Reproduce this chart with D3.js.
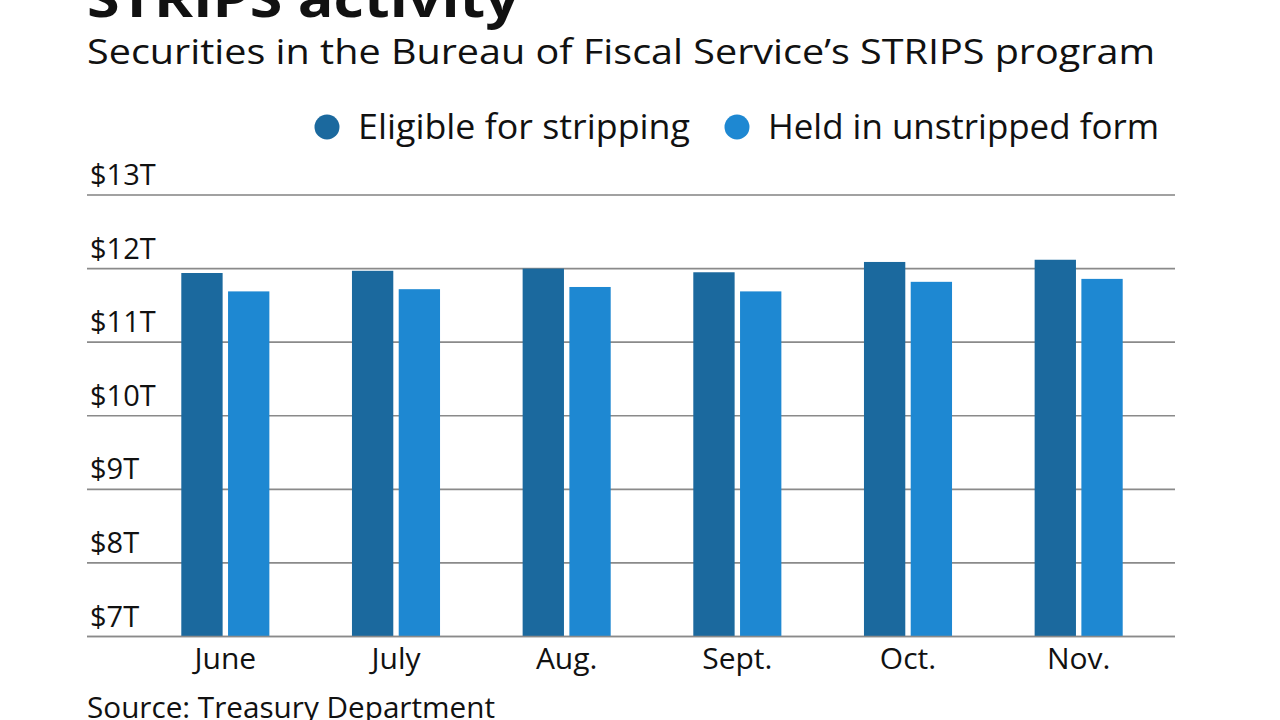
<!DOCTYPE html>
<html><head><meta charset="utf-8">
<script src="https://cdn.jsdelivr.net/npm/d3@7/dist/d3.min.js"></script>
<style>body{margin:0;background:#fff;} svg{display:block;} text{font-family:"Open Sans",sans-serif;fill:#111;}</style>
</head><body>
<svg id="c" width="1280" height="720"></svg>
<script>
const months = ["June","July","Aug.","Sept.","Oct.","Nov."];
const seriesNames = ["Eligible for stripping","Held in unstripped form"];
const eligible = [11.94, 11.97, 12.00, 11.95, 12.09, 12.12];
const unstripped = [11.69, 11.72, 11.75, 11.69, 11.82, 11.86];
const yTicks = [7,8,9,10,11,12,13];
const colors = ["#1b699e","#1e88d2"];

const svg = d3.select("#c");
const y = d3.scaleLinear().domain([7,13]).range([636.5,195]);
const x0 = d3.scaleBand().domain(months).range([140,1164]).paddingInner(0.484).paddingOuter(0.242);
const x1 = d3.scaleBand().domain(seriesNames).range([0,x0.bandwidth()]).paddingInner(0.116);

svg.append("text").attr("x",87).attr("y",17).attr("font-size",52).attr("font-weight",700)
  .attr("textLength",432).attr("lengthAdjust","spacingAndGlyphs").text("STRIPS activity");
svg.append("text").attr("x",87).attr("y",64).attr("font-size",35)
  .attr("textLength",1068).attr("lengthAdjust","spacingAndGlyphs")
  .text("Securities in the Bureau of Fiscal Service\u2019s STRIPS program");

const lg = [{n:seriesNames[0],cx:327,tx:358,w:332},{n:seriesNames[1],cx:737,tx:768,w:391}];
lg.forEach((d,i)=>{
  svg.append("circle").attr("cx",d.cx).attr("cy",127).attr("r",12.5).attr("fill",colors[i]);
  svg.append("text").attr("x",d.tx).attr("y",139).attr("font-size",34)
    .attr("textLength",d.w).attr("lengthAdjust","spacingAndGlyphs").text(d.n);
});

const g = svg.append("g");
g.selectAll("line.grid").data(yTicks).join("line")
  .attr("x1",87).attr("x2",1175).attr("y1",d=>y(d)).attr("y2",d=>y(d))
  .attr("stroke",d=>d===13?"#444":"#8a8a8a").attr("stroke-width",d=>d===13?1.2:1.6);
g.selectAll("text.yl").data(yTicks).join("text")
  .attr("x",90).attr("y",d=>y(d)-10).attr("font-size",29).text(d=>"$"+d+"T");

const data = months.map((m,i)=>({m, vals:[eligible[i],unstripped[i]]}));
const grp = svg.append("g").selectAll("g").data(data).join("g").attr("transform",d=>`translate(${x0(d.m)},0)`);
grp.selectAll("rect").data(d=>d.vals.map((v,i)=>({v,s:seriesNames[i],i}))).join("rect")
  .attr("x",d=>x1(d.s)).attr("width",x1.bandwidth())
  .attr("y",d=>y(d.v)).attr("height",d=>y(7)-y(d.v)).attr("fill",d=>colors[d.i]);

svg.append("line").attr("x1",87).attr("x2",1175).attr("y1",y(7)).attr("y2",y(7)).attr("stroke","#8a8a8a").attr("stroke-width",1.6);

svg.selectAll("text.xl").data(months).join("text")
  .attr("x",d=>x0(d)+x0.bandwidth()/2).attr("y",669).attr("text-anchor","middle").attr("font-size",30).text(d=>d);

svg.append("text").attr("x",87).attr("y",718).attr("font-size",29)
  .attr("textLength",408).attr("lengthAdjust","spacingAndGlyphs").text("Source: Treasury Department");
</script>
</body></html>
